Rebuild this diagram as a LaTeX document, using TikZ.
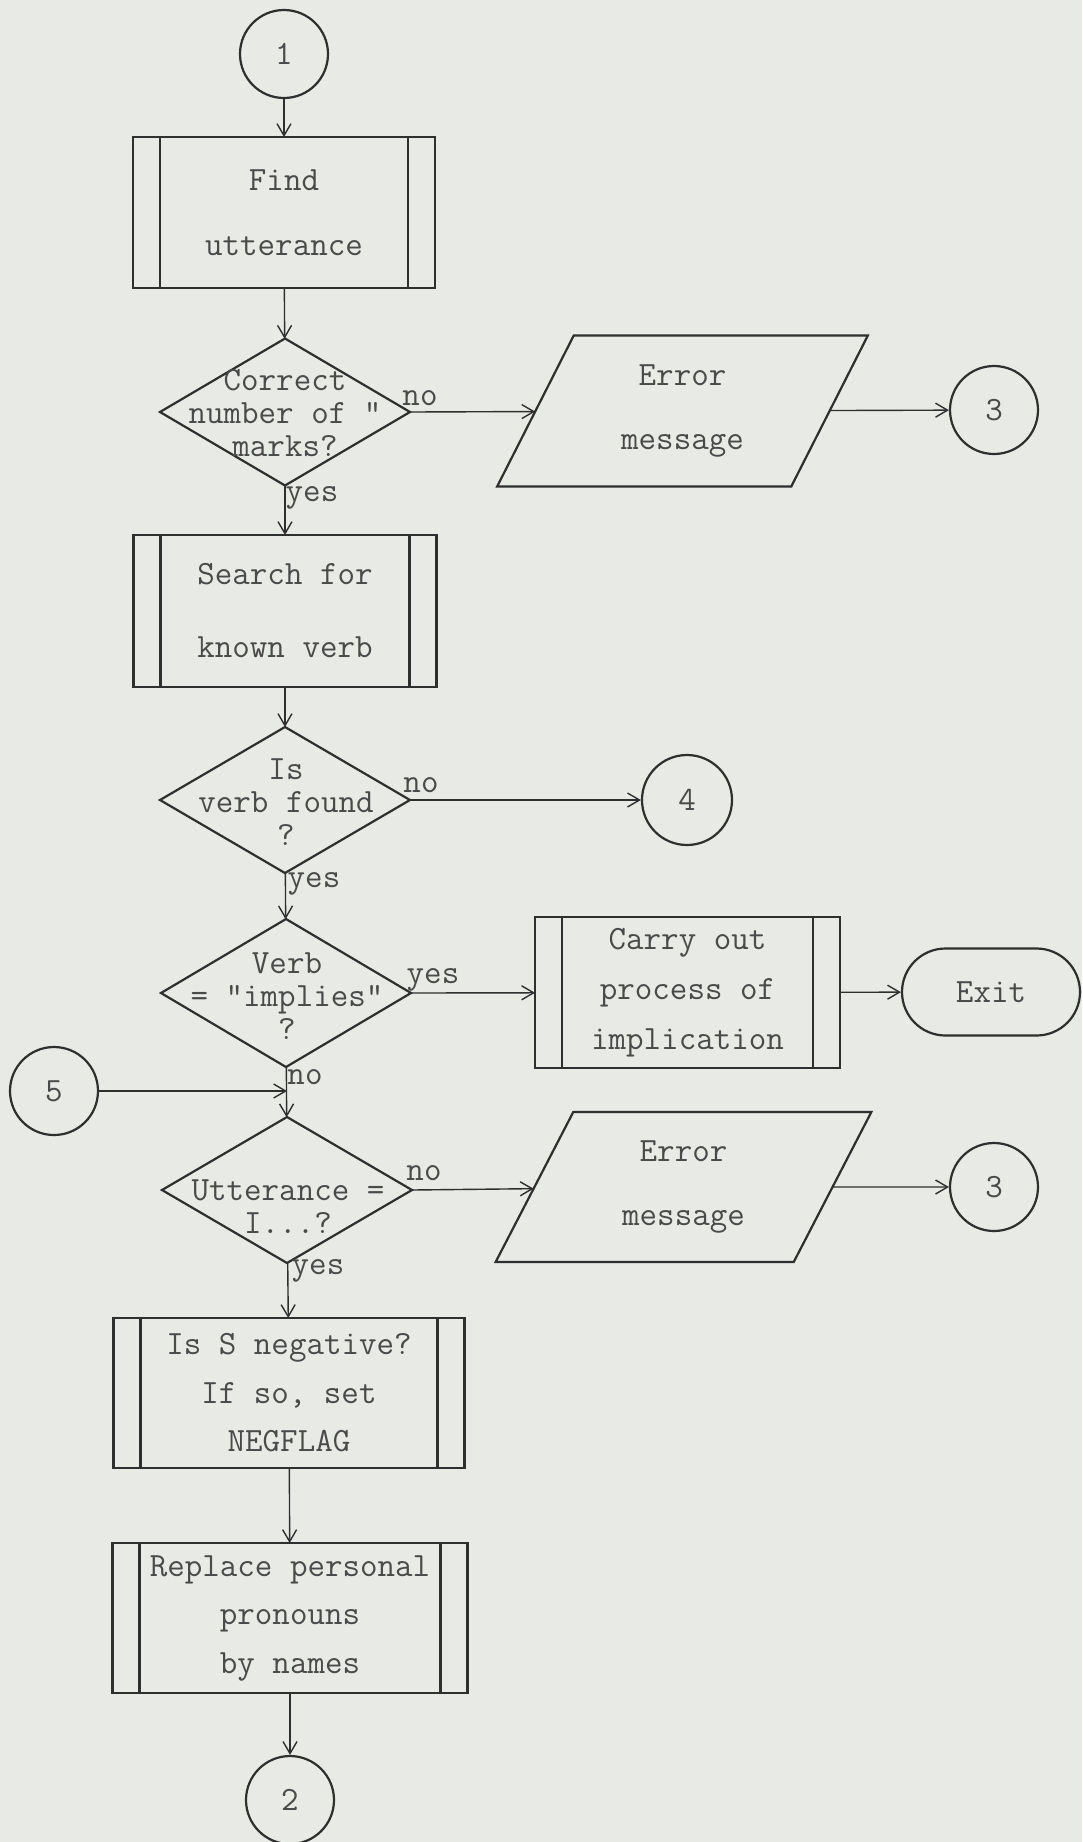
\documentclass[tikz,border=0pt]{standalone}
\usepackage{fontspec}
\usetikzlibrary{shapes.geometric,shapes.misc,arrows.meta,calc}
\definecolor{bgc}{HTML}{E7EAE5}
\definecolor{linec}{HTML}{2F2F2F}
\definecolor{textc}{HTML}{4A4A4A}
\tikzset{
  shp/.style={draw=linec, line width=1.1pt},
  tw/.style={font=\ttfamily\fontsize{17}{#1}\selectfont, text=textc, align=center},
  conn/.style={circle, shp, minimum size=#1, inner sep=0pt, tw=20},
  prc/.style={rectangle, shp, inner sep=0pt, outer sep=0pt, tw=#1},
  dec/.style={diamond, shp, inner sep=0pt, outer sep=0pt, minimum width=125pt},
  para/.style={trapezium, trapezium left angle=65, trapezium right angle=115,
    trapezium stretches=true, shp, inner sep=0pt, outer sep=0pt, tw=32},
  term/.style={rounded rectangle, shp, inner sep=0pt, tw=20},
  dtxt/.style={tw=16.5, inner sep=0pt},
  lbl/.style={tw=20, inner sep=0pt},
  arr/.style={draw=linec, line width=0.7pt,
    -{Straight Barb[length=6pt,width=7pt,line width=0.7pt]}},
}
\begin{document}
\begin{tikzpicture}[x=0.5pt,y=-0.5pt]
\fill[bgc] (0,0) rectangle (1082,1842);
\useasboundingbox (0,0) rectangle (1082,1842);

% main column
\node[conn=44pt] (c1) at (284,54) {1};
\node[prc=32.5, minimum width=151pt, minimum height=75.5pt] (b1) at (284,212.5) {Find\\utterance};
\node[dec, minimum height=73.5pt] (d1) at (285,412) {};
\node[dtxt] (d1t) at (285,413) {Correct\\number of "\\marks?};
\node[prc=36.5, minimum width=151.5pt, minimum height=76pt] (s1) at (285,611) {Search for\\known verb};
\node[dec, minimum height=73pt] (d2) at (285,800) {};
\node[dtxt] (d2t) at (286,802) {Is\\verb found\\?};
\node[dec, minimum height=74pt] (d3) at (286,993) {};
\node[dtxt] (d3t) at (287,996) {Verb\\= "implies"\\?};
\node[dec, minimum height=73pt] (d4) at (287,1190) {};
\node[dtxt] (d4t) at (288,1207) {Utterance =\\I...?};
\node[prc=24.25, minimum width=175.5pt, minimum height=75pt] (neg) at (289,1393) {Is S negative?\\If so, set\\NEGFLAG};
\node[prc=24.25, minimum width=177.5pt, minimum height=75pt] (rep) at (290,1618) {Replace personal\\pronouns\\by names};
\node[conn=44pt] (c2) at (290,1800) {2};
\node[conn=44pt] (c5) at (54,1091) {5};

% right side
\node[para, minimum width=185.5pt, minimum height=75.5pt] (p1) at (682.5,411) {Error\\message};
\node[conn=44pt] (c3a) at (994,410) {3};
\node[conn=45pt] (c4) at (687,800) {4};
\node[prc=25, minimum width=152.5pt, minimum height=75.5pt] (carry) at (687.5,992.5) {Carry out\\process of\\implication};
\node[term, minimum width=89pt, minimum height=43.5pt] (exit) at (991,992) {Exit};
\node[para, minimum width=188pt, minimum height=75pt] (p2) at (683.5,1187) {Error\\message};
\node[conn=44pt] (c3b) at (994,1187) {3};

% inner lines of predefined processes
\foreach \n in {b1,s1,carry,neg,rep}{
  \draw[shp] ([xshift=13.5pt]\n.north west) -- ([xshift=13.5pt]\n.south west)
             ([xshift=-13.5pt]\n.north east) -- ([xshift=-13.5pt]\n.south east);
}

% connectors
\draw[arr] (c1) -- (b1);
\draw[arr] (b1) -- (d1);
\draw[arr] (d1.east) -- (p1);
\draw[arr] (p1) -- (c3a);
\draw[arr] (d1) -- (s1);
\draw[arr] (s1) -- (d2);
\draw[arr] (d2.east) -- (c4);
\draw[arr] (d2) -- (d3);
\draw[arr] (d3.east) -- (carry);
\draw[arr] (carry) -- (exit);
\draw[arr] (d3) -- (d4);
\draw[arr] (c5) -- (c5 -| d4.north);
\draw[arr] (d4.east) -- (p2);
\draw[arr] (p2) -- (c3b);
\draw[arr] (d4) -- (neg);
\draw[arr] (neg) -- (rep);
\draw[arr] (rep) -- (c2);

% labels
\node[lbl] at ($(d1.east)+(10,-14)$) {no};
\node[lbl] at ($(d1.south)+(27,12)$) {yes};
\node[lbl] at ($(d2.east)+(11,-15)$) {no};
\node[lbl] at ($(d2.south)+(29,11)$) {yes};
\node[lbl] at ($(d3.east)+(22,-13)$) {yes};
\node[lbl] at ($(d3.south)+(19,10)$) {no};
\node[lbl] at ($(d4.east)+(12,-17)$) {no};
\node[lbl] at ($(d4.south)+(31,8)$) {yes};
\end{tikzpicture}
\end{document}
